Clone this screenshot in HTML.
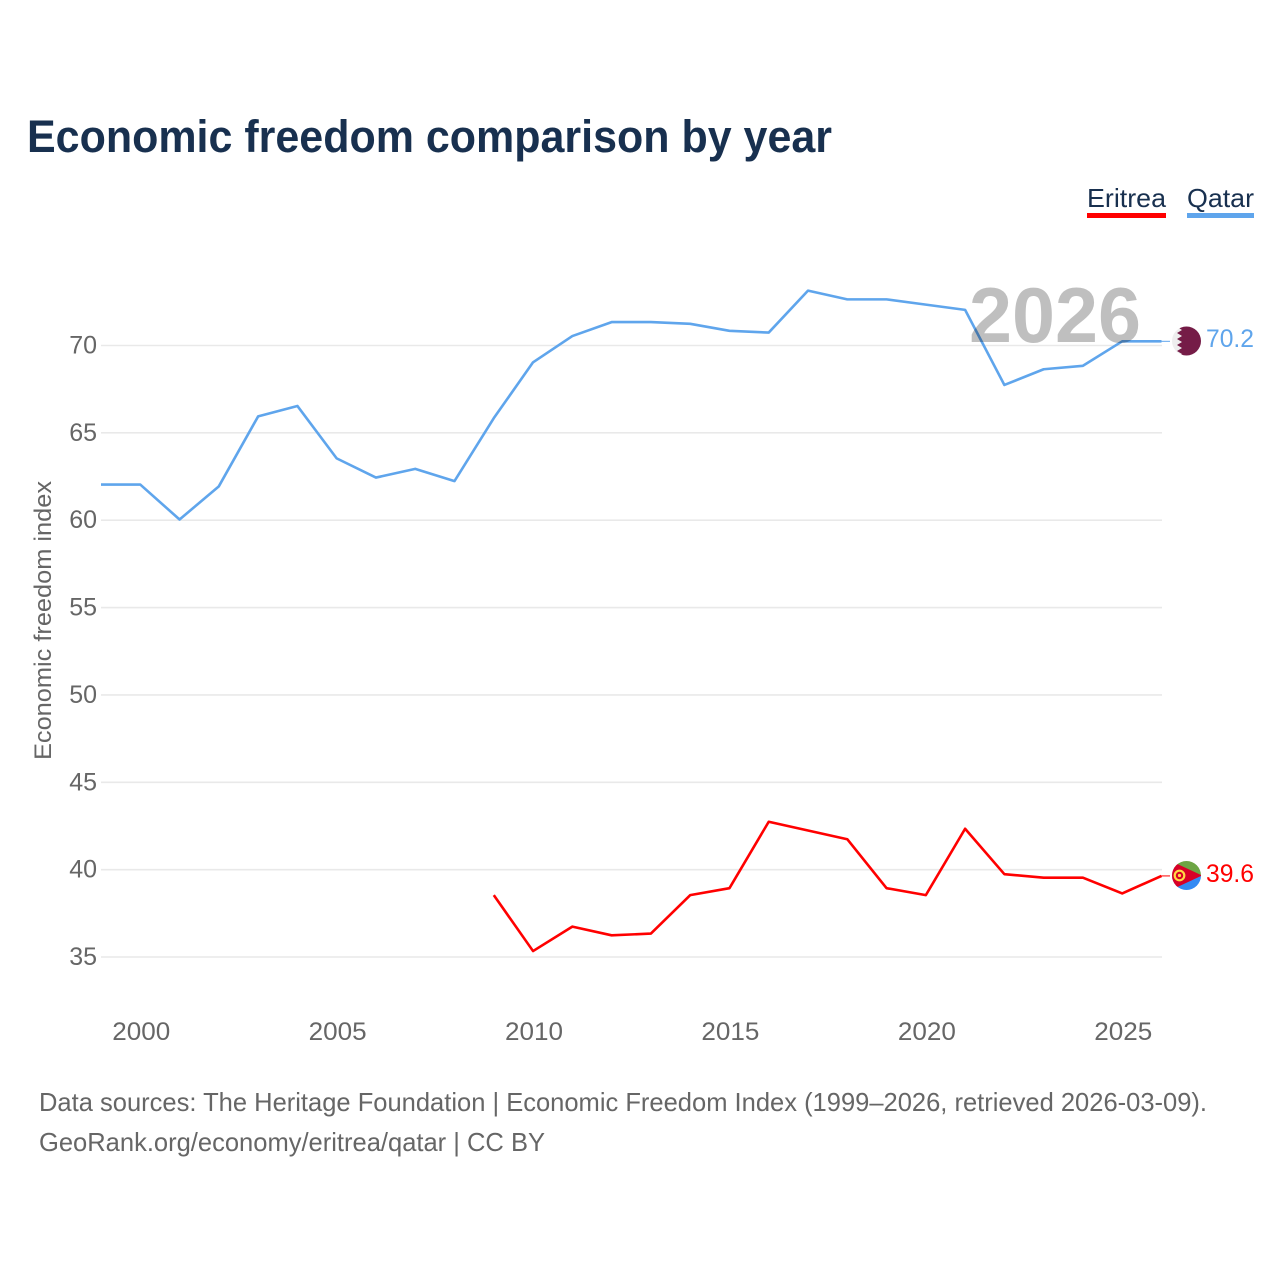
<!DOCTYPE html>
<html lang="en">
<head>
<meta charset="utf-8">
<title>Economic freedom comparison by year</title>
<style>
html,body{margin:0;padding:0;background:#fff;}
#chart{display:block;width:1280px;height:1280px;font-family:"Liberation Sans",sans-serif;}
</style>
</head>
<body>
<svg id="chart" xmlns="http://www.w3.org/2000/svg" width="1280" height="1280" viewBox="0 0 1280 1280">
  <defs>
    <clipPath id="clip-qatar"><circle cx="1186.5" cy="341" r="14.5"/></clipPath>
    <clipPath id="clip-eritrea"><circle cx="1186.5" cy="875.5" r="14.5"/></clipPath>
  </defs>
  <rect width="1280" height="1280" fill="#fff"/>
  <text x="27" y="152" font-size="45" font-weight="700" fill="#18304f" textLength="805" lengthAdjust="spacingAndGlyphs">Economic freedom comparison by year</text>

  <g style="cursor:pointer">
    <text x="1087" y="207" font-size="26" fill="#18304f" textLength="79" lengthAdjust="spacingAndGlyphs">Eritrea</text>
    <rect x="1087" y="213" width="79" height="5" fill="#ff0000"/>
  </g>
  <g style="cursor:pointer">
    <text x="1187" y="207" font-size="26" fill="#18304f" textLength="67" lengthAdjust="spacingAndGlyphs">Qatar</text>
    <rect x="1187" y="213" width="67" height="5" fill="#5fa5ec"/>
  </g>

  <g id="grid"></g>
  <g id="y-ticks"></g>
  <g id="x-ticks"></g>
  <text transform="translate(51,760) rotate(-90)" font-size="24" fill="#666" textLength="279" lengthAdjust="spacingAndGlyphs">Economic freedom index</text>

  <g id="series" transform="translate(0,-0.7)"></g>

  <text x="969" y="342" font-size="78" font-weight="700" fill="#000" fill-opacity="0.25" textLength="172" lengthAdjust="spacingAndGlyphs">2026</text>

  <g clip-path="url(#clip-qatar)">
    <rect x="1171" y="326" width="31" height="30" fill="#eeeeee"/>
    <polygon fill="#751c47" points="1203,325 1180,325 1177,327 1182,330 1177,333 1182,336 1177,339 1182,342 1177,345 1182,348 1177,351 1182,354 1177,357 1203,357"/>
  </g>
  <g clip-path="url(#clip-eritrea)">
    <rect x="1171" y="860" width="31" height="16" fill="#6da544"/>
    <rect x="1171" y="875.5" width="31" height="16" fill="#338af3"/>
    <polygon fill="#d80027" points="1171,861 1202,875.5 1171,890"/>
    <circle cx="1179.5" cy="875.5" r="4.8" fill="none" stroke="#ffda44" stroke-width="2.2"/>
    <circle cx="1179.5" cy="875.5" r="1.6" fill="#ffda44"/>
  </g>
  <text id="label-qatar" x="1206" y="347" font-size="25" fill="#5fa5ec" textLength="48" lengthAdjust="spacingAndGlyphs"></text>
  <text id="label-eritrea" x="1206" y="882" font-size="25" fill="#ff0000" textLength="48" lengthAdjust="spacingAndGlyphs"></text>

  <text x="39" y="1111" font-size="26" fill="#666" textLength="1168" lengthAdjust="spacingAndGlyphs">Data sources: The Heritage Foundation | Economic Freedom Index (1999–2026, retrieved 2026-03-09).</text>
  <text x="39" y="1151" font-size="26" fill="#666" textLength="506" lengthAdjust="spacingAndGlyphs">GeoRank.org/economy/eritrea/qatar | CC BY</text>
</svg>
<script>
const yTickValues = [35, 40, 45, 50, 55, 60, 65, 70];
const xTickYears = [2000, 2005, 2010, 2015, 2020, 2025];
const qatarYears = [1999,2000,2001,2002,2003,2004,2005,2006,2007,2008,2009,2010,2011,2012,2013,2014,2015,2016,2017,2018,2019,2020,2021,2022,2023,2024,2025,2026];
const qatarValues = [62.0,62.0,60.0,61.9,65.9,66.5,63.5,62.4,62.9,62.2,65.8,69.0,70.5,71.3,71.3,71.2,70.8,70.7,73.1,72.6,72.6,72.3,72.0,67.7,68.6,68.8,70.2,70.2];
const eritreaYears = [2009,2010,2011,2012,2013,2014,2015,2016,2017,2018,2019,2020,2021,2022,2023,2024,2025,2026];
const eritreaValues = [38.5,35.3,36.7,36.2,36.3,38.5,38.9,42.7,42.2,41.7,38.9,38.5,42.3,39.7,39.5,39.5,38.6,39.6];

const SVG_NS = 'http://www.w3.org/2000/svg';
function xScale(year) { return 101 + (year - 1999) * (1161.5 - 101) / 27; }
function yScale(value) { return 345.5 + (70 - value) * (957 - 345.5) / 35; }
function make(tag, attrs, parent) {
  const el = document.createElementNS(SVG_NS, tag);
  for (const k in attrs) el.setAttribute(k, attrs[k]);
  parent.appendChild(el);
  return el;
}

const grid = document.getElementById('grid');
const yTicks = document.getElementById('y-ticks');
yTickValues.forEach(function (v) {
  const line = make('line', {x1: 101, x2: 1162, y1: yScale(v), y2: yScale(v), stroke: '#e9e9e9', 'stroke-width': 1.6}, grid);
  
  
  const label = make('text', {x: 97, y: yScale(v) + 8, 'text-anchor': 'end', 'font-size': 25, fill: '#666'}, yTicks);
  
  
  label.textContent = String(v);
});

const xTicks = document.getElementById('x-ticks');
xTickYears.forEach(function (y) {
  const label = make('text', {x: xScale(y) + 1, y: 1040, 'text-anchor': 'middle', 'font-size': 25, fill: '#666', textLength: 58, lengthAdjust: 'spacingAndGlyphs'}, xTicks);
  
  
  label.textContent = String(y);
});

function pathFor(years, values) {
  return years.map(function (y, i) {
    return (i ? 'L' : 'M') + xScale(y).toFixed(2) + ' ' + yScale(values[i]).toFixed(2);
  }).join(' ');
}

const series = document.getElementById('series');
const qatarLine = make('path', {d: pathFor(qatarYears, qatarValues), fill: 'none', stroke: '#5fa5ec', 'stroke-width': 2.6, 'stroke-linejoin': 'round'}, series);


const eritreaLine = make('path', {d: pathFor(eritreaYears, eritreaValues), fill: 'none', stroke: '#ff0000', 'stroke-width': 2.6, 'stroke-linejoin': 'round'}, series);



const lastQ = qatarValues[qatarValues.length - 1];
const lastE = eritreaValues[eritreaValues.length - 1];
const qConn = make('line', {x1: 1161.5, x2: 1170, y1: yScale(lastQ), y2: yScale(lastQ), stroke: '#5fa5ec', 'stroke-width': 1}, series);


const eConn = make('line', {x1: 1161.5, x2: 1170, y1: yScale(lastE), y2: yScale(lastE), stroke: '#ff0000', 'stroke-width': 1}, series);


document.getElementById('label-qatar').textContent = lastQ.toFixed(1);
document.getElementById('label-eritrea').textContent = lastE.toFixed(1);
</script>
</body>
</html>
